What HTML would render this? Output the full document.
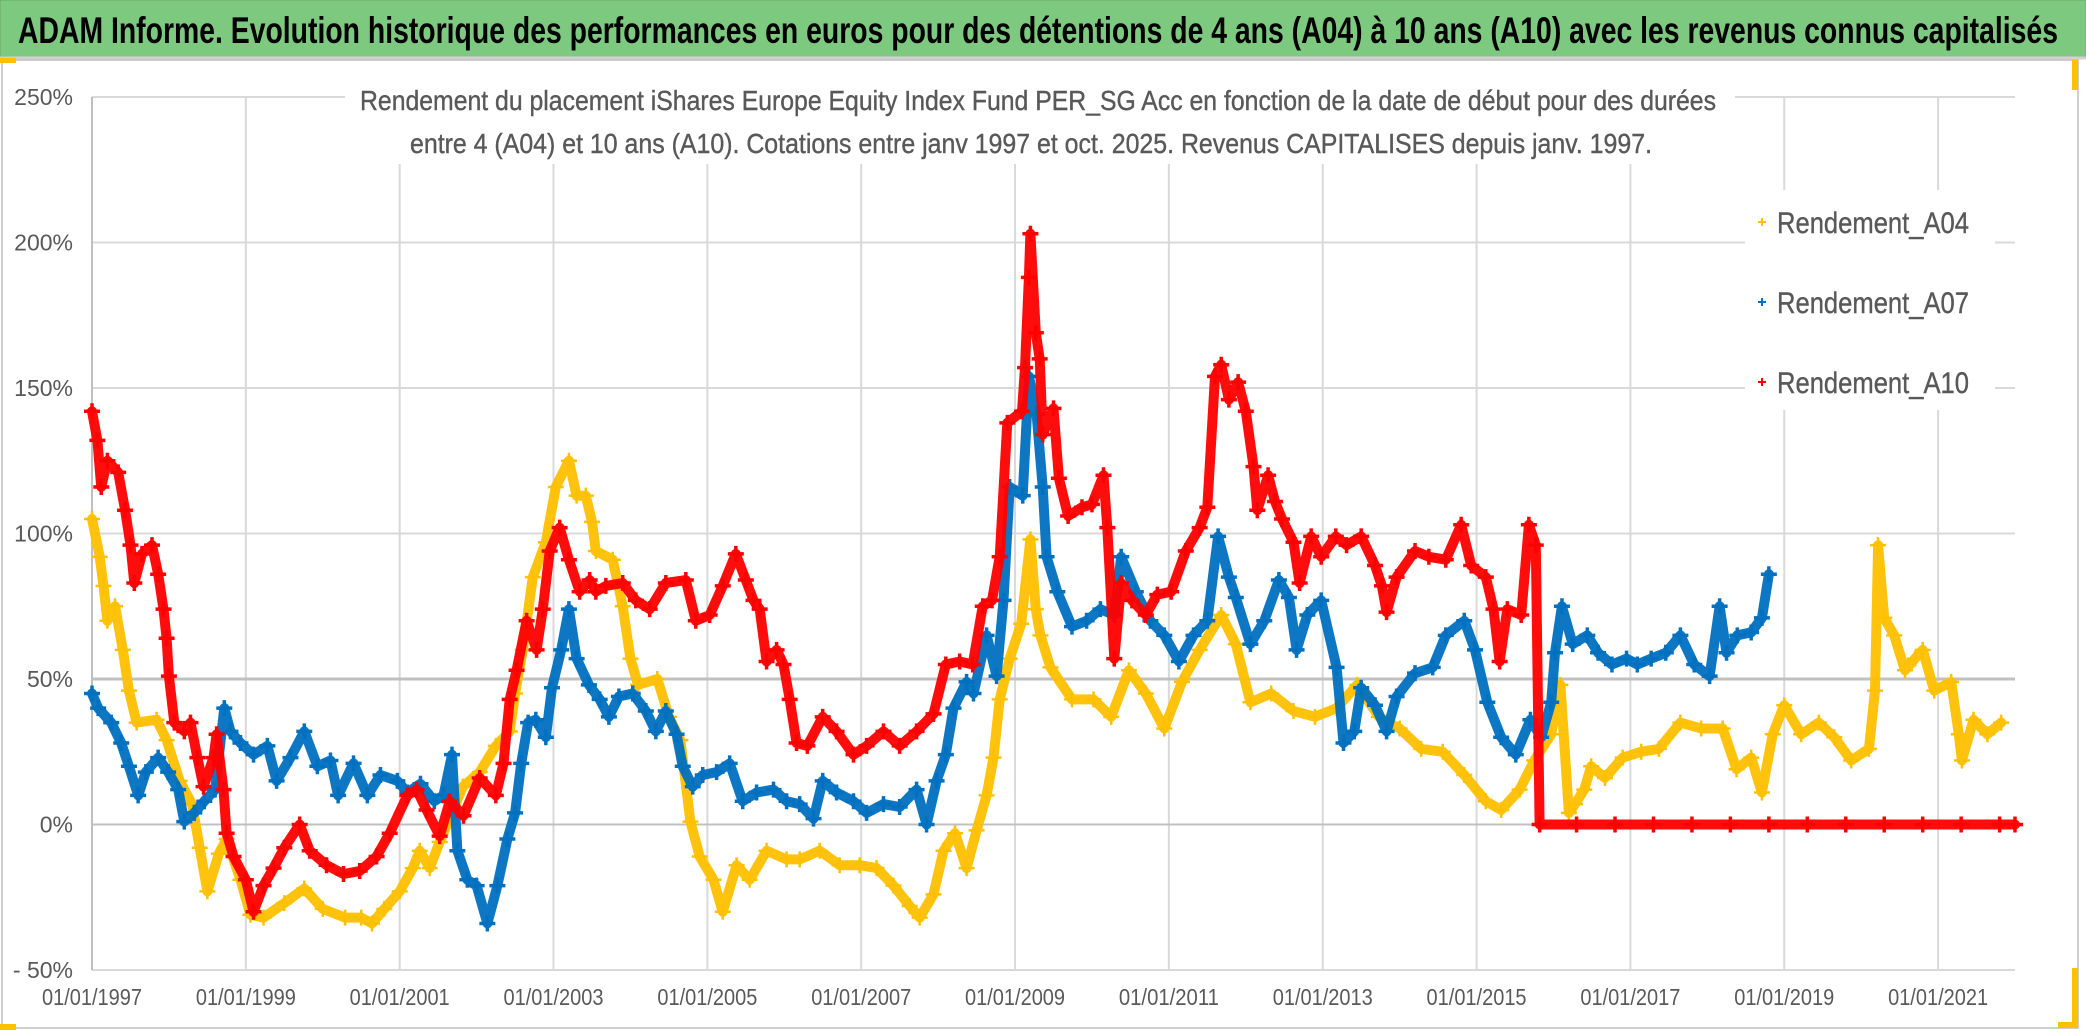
<!DOCTYPE html>
<html><head><meta charset="utf-8">
<style>
html,body{margin:0;padding:0;background:#fff;}
svg{display:block;font-family:"Liberation Sans",sans-serif;}
</style></head>
<body>
<svg id="chart" width="2086" height="1032" viewBox="0 0 2086 1032" xmlns="http://www.w3.org/2000/svg">
  <rect x="0" y="0" width="2086" height="1032" fill="#ffffff"/>
  <rect x="0" y="0" width="2086" height="57" fill="#7DC97F" stroke="#6aa86c" stroke-width="1"/>
  <line x1="0" y1="58" x2="2086" y2="58" stroke="#d0d0d0" stroke-width="3"/>
  <text x="18" y="43" font-size="37" font-weight="bold" fill="#000" textLength="2040" lengthAdjust="spacingAndGlyphs">ADAM Informe. Evolution historique des performances en euros pour des détentions de 4 ans (A04) à 10 ans (A10) avec les revenus connus capitalisés</text>
  <rect x="2" y="60" width="2076" height="968" fill="none" stroke="#bfbfbf" stroke-width="1.5"/>
  <rect x="0" y="58" width="16" height="5" fill="#FFC000"/>
  <rect x="0" y="1024" width="16" height="6" fill="#FFC000"/>
  <rect x="2072" y="60" width="6" height="30" fill="#FFC000"/>
  <rect x="2072" y="968" width="6" height="58" fill="#FFC000"/>
  <rect x="2058" y="1022" width="20" height="6" fill="#FFC000"/>
  <g id="grid"></g>
  <g id="axes"></g>
  <g id="series"></g>
  <rect x="345" y="72" width="1390" height="92" fill="#ffffff"/>
  <text x="360" y="110" font-size="28" fill="#595959" stroke="#595959" stroke-width="0.4" textLength="1356" lengthAdjust="spacingAndGlyphs">Rendement du placement iShares Europe Equity Index Fund PER_SG Acc en fonction de la date de début pour des durées</text>
  <text x="410" y="153" font-size="28" fill="#595959" stroke="#595959" stroke-width="0.4" textLength="1242" lengthAdjust="spacingAndGlyphs">entre 4 (A04) et 10 ans (A10). Cotations entre janv 1997 et oct. 2025. Revenus CAPITALISES depuis janv. 1997.</text>
  <g id="legend"></g>
</svg>
<script>
// ---- data ----
const xTickLabels = ["01/01/1997","01/01/1999","01/01/2001","01/01/2003","01/01/2005","01/01/2007","01/01/2009","01/01/2011","01/01/2013","01/01/2015","01/01/2017","01/01/2019","01/01/2021"];
const xTickYears = [1997,1999,2001,2003,2005,2007,2009,2011,2013,2015,2017,2019,2021];
const yTickValues = [-50,0,50,100,150,200,250];
const yTickLabels = ["- 50%","0%","50%","100%","150%","200%","250%"];
const seriesNames = ["Rendement_A04","Rendement_A07","Rendement_A10"];

const a04Years = [1997.0,1997.1,1997.15,1997.2,1997.3,1997.4,1997.48,1997.58,1997.84,1997.97,1998.14,1998.3,1998.4,1998.5,1998.65,1998.75,1998.93,1999.06,1999.23,1999.5,1999.76,2000.0,2000.29,2000.5,2000.64,2000.8,2001.0,2001.17,2001.26,2001.39,2001.52,2001.82,2002.04,2002.25,2002.43,2002.5,2002.6,2002.73,2002.9,2003.03,2003.2,2003.3,2003.42,2003.5,2003.55,2003.77,2003.9,2004.0,2004.1,2004.35,2004.5,2004.65,2004.78,2004.9,2005.08,2005.2,2005.38,2005.55,2005.77,2006.03,2006.2,2006.46,2006.72,2006.98,2007.2,2007.42,2007.63,2007.76,2007.94,2008.07,2008.22,2008.37,2008.5,2008.63,2008.72,2008.8,2008.93,2009.08,2009.2,2009.27,2009.33,2009.46,2009.74,2010.02,2010.25,2010.48,2010.7,2010.94,2011.17,2011.4,2011.68,2011.87,2012.06,2012.33,2012.62,2012.9,2013.18,2013.45,2013.73,2014.0,2014.28,2014.56,2014.84,2015.12,2015.32,2015.56,2015.75,2015.97,2016.09,2016.2,2016.28,2016.4,2016.49,2016.67,2016.9,2017.14,2017.37,2017.65,2017.92,2018.2,2018.38,2018.57,2018.71,2018.85,2019.0,2019.22,2019.45,2019.65,2019.87,2020.1,2020.18,2020.22,2020.3,2020.43,2020.57,2020.7,2020.8,2020.95,2021.17,2021.27,2021.31,2021.46,2021.64,2021.82];
const a04Values = [105,92,82,70,75,60,46,35,36,29,15,7,-8,-23,-10,-5,-19,-31,-32,-27,-22,-29,-32,-32,-34,-29,-23,-15,-9,-15,-6,13,18,27,32,45,60,85,97,116,125,113,113,104,94,91,75,57,48,50,37,29,1,-11,-19,-30,-14,-19,-9,-12,-12,-9,-14,-14,-15,-21,-28,-32,-24,-9,-3,-15,-2,10,23,43,57,69,98,74,65,54,43,43,37,53,45,33,49,60,72,62,42,45,39,37,40,48,37,33,26,25,17,8,5,12,22,31,48,4,7,12,20,16,23,25,26,35,33,33,19,23,11,31,41,31,35,30,22,26,46,96,71,65,53,57,60,46,49,31,22,36,31,35];

const a07Years = [1997.0,1997.08,1997.25,1997.38,1997.48,1997.6,1997.7,1997.86,1997.99,1998.12,1998.2,1998.33,1998.46,1998.6,1998.72,1998.8,1998.93,1999.1,1999.28,1999.4,1999.58,1999.76,1999.93,2000.1,2000.2,2000.4,2000.58,2000.75,2000.97,2001.1,2001.27,2001.45,2001.57,2001.68,2001.75,2001.88,2002.0,2002.14,2002.27,2002.4,2002.5,2002.58,2002.67,2002.77,2002.9,2002.98,2003.1,2003.2,2003.3,2003.46,2003.6,2003.72,2003.85,2004.03,2004.2,2004.33,2004.46,2004.6,2004.68,2004.81,2004.94,2005.12,2005.29,2005.46,2005.64,2005.86,2006.03,2006.2,2006.38,2006.5,2006.68,2006.9,2007.07,2007.29,2007.5,2007.72,2007.85,2007.98,2008.1,2008.2,2008.37,2008.46,2008.63,2008.76,2008.85,2008.93,2009.1,2009.18,2009.28,2009.36,2009.41,2009.55,2009.74,2009.93,2010.11,2010.29,2010.38,2010.57,2010.76,2010.94,2011.13,2011.32,2011.5,2011.64,2011.78,2011.87,2012.06,2012.24,2012.43,2012.56,2012.66,2012.8,2012.98,2013.18,2013.27,2013.41,2013.5,2013.68,2013.83,2013.96,2014.2,2014.43,2014.6,2014.84,2014.98,2015.14,2015.32,2015.51,2015.7,2015.84,2015.97,2016.02,2016.11,2016.25,2016.44,2016.58,2016.76,2016.95,2017.09,2017.27,2017.46,2017.65,2017.83,2018.03,2018.16,2018.25,2018.39,2018.57,2018.71,2018.8];
const a07Values = [45,40,35,28,20,10,18,23,18,12,1,4,8,12,40,32,28,24,27,15,23,32,20,22,10,21,10,17,15,11,14,8,10,24,-9,-19,-21,-34,-21,-5,4,21,35,36,30,47,60,74,57,48,43,37,44,45,39,32,39,31,20,13,17,18,21,8,11,12,8,7,2,15,11,8,4,7,6,12,0,15,24,40,49,45,65,51,77,116,113,154,141,116,92,80,68,70,74,72,92,80,70,65,56,65,70,99,85,78,62,70,84,78,60,72,77,54,28,32,47,41,32,44,52,54,65,70,60,42,30,24,36,30,42,59,75,62,65,59,55,57,55,57,59,65,55,51,75,59,65,66,71,86];

const a10Years = [1997.0,1997.07,1997.12,1997.2,1997.34,1997.43,1997.5,1997.55,1997.65,1997.78,1997.86,1997.93,1997.97,1998.0,1998.07,1998.2,1998.28,1998.37,1998.45,1998.58,1998.62,1998.71,1998.75,1998.84,1999.0,1999.1,1999.23,1999.36,1999.5,1999.7,1999.83,2000.05,2000.27,2000.48,2000.7,2000.87,2001.1,2001.22,2001.35,2001.52,2001.65,2001.83,2002.04,2002.25,2002.35,2002.43,2002.52,2002.65,2002.78,2002.86,2002.95,2003.08,2003.2,2003.34,2003.47,2003.55,2003.68,2003.9,2004.07,2004.25,2004.46,2004.72,2004.85,2005.03,2005.2,2005.37,2005.5,2005.6,2005.68,2005.77,2005.9,2005.99,2006.07,2006.16,2006.3,2006.5,2006.68,2006.9,2007.07,2007.29,2007.5,2007.72,2007.94,2008.1,2008.28,2008.45,2008.58,2008.7,2008.8,2008.9,2009.09,2009.13,2009.18,2009.2,2009.27,2009.32,2009.36,2009.5,2009.57,2009.69,2009.87,2010.0,2010.15,2010.2,2010.29,2010.38,2010.52,2010.7,2010.85,2011.03,2011.22,2011.4,2011.5,2011.6,2011.68,2011.78,2011.9,2012.0,2012.1,2012.15,2012.29,2012.38,2012.47,2012.62,2012.7,2012.85,2012.98,2013.17,2013.31,2013.5,2013.68,2013.77,2013.83,2013.96,2014.2,2014.38,2014.6,2014.8,2014.93,2015.12,2015.22,2015.3,2015.4,2015.58,2015.68,2015.77,2015.82,2016.3,2016.8,2017.3,2017.8,2018.3,2018.8,2019.3,2019.8,2020.3,2020.8,2021.3,2021.8,2022.0];
const a10Values = [142,132,116,125,121,108,96,83,93,96,86,74,64,51,35,32,35,23,13,23,31,12,-3,-11,-19,-30,-21,-15,-8,0,-9,-14,-17,-16,-11,-3,10,12,5,-4,8,3,16,10,21,43,53,70,60,74,94,102,91,80,84,80,82,83,77,74,83,84,70,72,82,93,84,77,74,56,60,55,43,28,27,37,32,24,27,32,27,32,38,55,56,55,75,77,92,138,142,157,188,203,169,160,134,143,119,106,109,110,120,102,57,83,77,72,79,80,94,102,109,154,158,146,152,142,123,108,120,111,105,97,83,99,92,99,96,99,89,82,73,85,94,92,91,103,89,85,74,56,74,72,103,96,0,0,0,0,0,0,0,0,0,0,0,0,0,0];

// ---- axes ----
const PX0 = 92, PX1 = 2015, YEAR0 = 1997, YEAR1 = 2022;
const PY_TOP = 97, PY_BOT = 970, VMIN = -50, VMAX = 250;
function xScale(yr){ return PX0 + (yr - YEAR0) / (YEAR1 - YEAR0) * (PX1 - PX0); }
function yScale(v){ return PY_BOT - (v - VMIN) / (VMAX - VMIN) * (PY_BOT - PY_TOP); }
const NS = "http://www.w3.org/2000/svg";
function mk(tag, attrs, parent){ const e = document.createElementNS(NS, tag); for (const k in attrs) e.setAttribute(k, attrs[k]); parent.appendChild(e); return e; }

const grid = document.getElementById('grid');
const axes = document.getElementById('axes');
xTickYears.forEach((yr, i) => {
  const x = xScale(yr);
  const l = mk('line', {x1:x, y1:PY_TOP, x2:x, y2:PY_BOT, stroke:'#d9d9d9', 'stroke-width':2}, grid);
  
  
  const t = mk('text', {x:x, y:1005, 'font-size':23, fill:'#595959', 'text-anchor':'middle', textLength:100, lengthAdjust:'spacingAndGlyphs'}, axes);
  t.textContent = xTickLabels[i];
  
  
});
yTickValues.forEach((v, i) => {
  const y = yScale(v);
  const l = mk('line', {x1:PX0, y1:y, x2:PX1, y2:y, stroke:(v===0||v===50)?'#c0c0c0':'#d9d9d9', 'stroke-width':(v===50)?3:2}, grid);
  
  
  const t = mk('text', {x:73, y:y+8, 'font-size':23, fill:'#595959', 'text-anchor':'end'}, axes);
  t.textContent = yTickLabels[i];
  
  
});
const yAxisLine = mk('line', {x1:PX0, y1:PY_TOP, x2:PX0, y2:PY_BOT, stroke:'#bfbfbf', 'stroke-width':2}, grid);



// ---- series ----
const seriesLayer = document.getElementById('series');
function plusPath(x, y, s){ return `M${x-s},${y}H${x+s}M${x},${y-s}V${y+s}`; }
function drawSeries(years, values, color, name, lw, mw){
  const g = mk('g', {}, seriesLayer);
  
  
  let pts = [];
  let d = '';
  years.forEach((yr, i) => {
    const x = xScale(yr), y = yScale(values[i]);
    pts.push(x.toFixed(1) + ',' + y.toFixed(1));
    d += plusPath(x, y, 8);
  });
  const band = mk('polyline', {points:pts.join(' '), fill:'none', stroke:color, 'stroke-width':lw, 'stroke-linejoin':'round', 'stroke-linecap':'round', opacity:0.95}, g);
  
  
  const marks = mk('path', {d:d, stroke:color, 'stroke-width':mw, fill:'none'}, g);
  
  
}
drawSeries(a04Years, a04Values, '#FFC000', 'series-a04', 10, 2.5);
drawSeries(a07Years, a07Values, '#0070C0', 'series-a07', 10, 3.5);
drawSeries(a10Years, a10Values, '#FF0000', 'series-a10', 10, 3.5);

// ---- legend ----
const legend = document.getElementById('legend');
const lbg = mk('rect', {x:1745, y:190, width:250, height:220, fill:'#ffffff'}, legend);


const legendColors = ['#FFC000','#0070C0','#FF0000'];
const legendY = [222, 302, 382];
seriesNames.forEach((n, i) => {
  const m = mk('path', {d:plusPath(1762, legendY[i], 4), stroke:legendColors[i], 'stroke-width':2, fill:'none'}, legend);
  
  
  const t = mk('text', {x:1777, y:legendY[i]+11, 'font-size':30, fill:'#595959', stroke:'#595959', 'stroke-width':0.4, textLength:192, lengthAdjust:'spacingAndGlyphs'}, legend);
  t.textContent = n;
  
  
});
</script>
</body></html>
